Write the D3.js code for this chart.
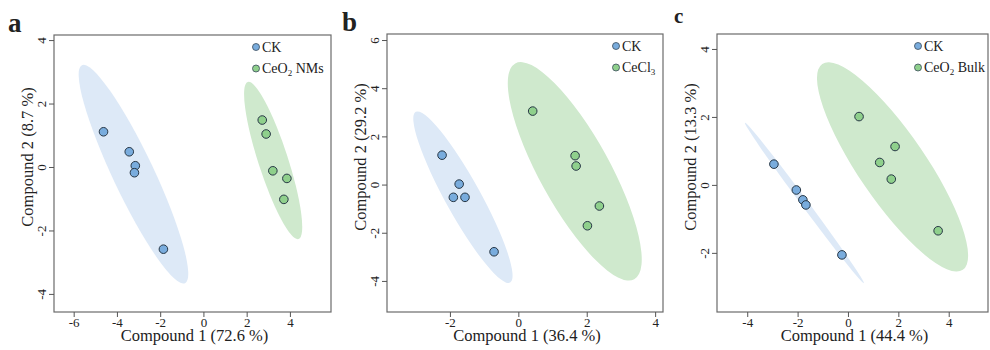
<!DOCTYPE html>
<meta charset="utf-8">
<html>
<head>
<title>PCA score plots</title>
<style>
  body { margin: 0; background: #fff; }
  svg text { font-family: 'Liberation Serif', 'Times New Roman', serif; fill: #222; }
</style>
</head>
<body>
<div id="chart"></div>
<script src="https://cdn.jsdelivr.net/npm/d3@7"></script>
<script>

// ---- data ----
var panelLetters = ["a", "b", "c"];
var xTitles = ["Compound 1 (72.6 %)", "Compound 1 (36.4 %)", "Compound 1 (44.4 %)"];
var yTitles = ["Compound 2 (8.7 %)", "Compound 2 (29.2 %)", "Compound 2 (13.3 %)"];
// legend names: [main, subscript, rest]
var groupNames = [
  [["CK", "", ""], ["CeO", "2", " NMs"]],
  [["CK", "", ""], ["CeCl", "3", ""]],
  [["CK", "", ""], ["CeO", "2", " Bulk"]]
];

var xDomains = [[-6.91, 5.90], [-3.84, 4.23], [-5.2, 5.56]];
var yDomains = [[-4.57, 4.16], [-5.29, 6.25], [-3.74, 4.44]];
var xTickVals = [[-6, -4, -2, 0, 2, 4], [-2, 0, 2, 4], [-4, -2, 0, 2, 4]];
var yTickVals = [[-4, -2, 0, 2, 4], [-4, -2, 0, 2, 4, 6], [-2, 0, 2, 4]];

// scores per panel: CK then treatment, [x, y]
var ckScores = [
  [[-4.62, 1.11], [-3.43, 0.48], [-3.15, 0.04], [-3.19, -0.18], [-1.85, -2.59]],
  [[-2.23, 1.22], [-1.73, 0.02], [-1.90, -0.53], [-1.56, -0.53], [-0.71, -2.79]],
  [[-2.94, 0.61], [-2.05, -0.15], [-1.79, -0.44], [-1.67, -0.59], [-0.24, -2.06]]
];
var trtScores = [
  [[2.72, 1.48], [2.90, 1.04], [3.21, -0.12], [3.86, -0.36], [3.72, -1.02]],
  [[0.42, 3.05], [1.66, 1.20], [1.69, 0.77], [2.37, -0.89], [2.02, -1.71]],
  [[0.44, 2.01], [1.87, 1.13], [1.26, 0.66], [1.72, 0.17], [3.58, -1.35]]
];

// confidence ellipses: major-axis tips [x1, y1, x2, y2] and minor/major ratio
var ckEllipse = [[-5.62, 3.21, -0.85, -3.66], [-3.0, 3.02, -0.24, -4.07], [-4.09, 1.83, 0.63, -2.89]];
var ckRatio = [0.17, 0.18, 0.035];
var trtEllipse = [[2.05, 2.68, 4.40, -2.27], [-0.09, 5.03, 3.39, -3.93], [-1.02, 3.56, 4.56, -2.5]];
var trtRatio = [0.18, 0.285, 0.27];

// ---- layout ----
var boxes = [
  {x0: 54, x1: 331, y0: 35, y1: 312},
  {x0: 387, x1: 663, y0: 34, y1: 312},
  {x0: 717, x1: 988, y0: 34, y1: 312}
];
var letterPos = [[8, 32, 27], [342, 31, 27], [674, 23, 21]];
var colors = {
  ckFill: "#79acdd", trtFill: "#8fd08c",
  ckEll: "#dde9f7", trtEll: "#cfe9cd",
  dotStroke: "#263645"
};
var serif = "'Liberation Serif', 'Times New Roman', serif";

var svg = d3.select("#chart").append("svg")
  .attr("width", 990)
  .attr("height", 350);

panelLetters.forEach(function(letter, i) {
  var b = boxes[i];
  var x = d3.scaleLinear().domain(xDomains[i]).range([b.x0, b.x1]);
  var y = d3.scaleLinear().domain(yDomains[i]).range([b.y1, b.y0]);
  var g = svg.append("g");

  // ellipses
  function drawEllipse(tips, ratio, fill) {
    var p1 = [x(tips[0]), y(tips[1])], p2 = [x(tips[2]), y(tips[3])];
    var cx = (p1[0] + p2[0]) / 2, cy = (p1[1] + p2[1]) / 2;
    var a = Math.hypot(p2[0] - p1[0], p2[1] - p1[1]) / 2;
    var ang = Math.atan2(p2[1] - p1[1], p2[0] - p1[0]) * 180 / Math.PI;
    g.append("ellipse")
      .attr("cx", 0).attr("cy", 0)
      .attr("rx", a).attr("ry", a * ratio)
      .attr("transform", "translate(" + cx + "," + cy + ") rotate(" + ang + ")")
      .style("fill", fill);
  }
  drawEllipse(ckEllipse[i], ckRatio[i], colors.ckEll);
  drawEllipse(trtEllipse[i], trtRatio[i], colors.trtEll);

  // points
  g.selectAll(".ck").data(ckScores[i]).enter()
    .append("circle")
    .attr("cx", function(d) { return x(d[0]); })
    .attr("cy", function(d) { return y(d[1]); })
    .attr("r", 4.3)
    .style("fill", colors.ckFill)
    .style("stroke", colors.dotStroke)
    .style("stroke-width", 1);
  g.selectAll(".trt").data(trtScores[i]).enter()
    .append("circle")
    .attr("cx", function(d) { return x(d[0]); })
    .attr("cy", function(d) { return y(d[1]); })
    .attr("r", 4.3)
    .style("fill", colors.trtFill)
    .style("stroke", colors.dotStroke)
    .style("stroke-width", 1);

  // frame
  g.append("rect")
    .attr("x", b.x0).attr("y", b.y0)
    .attr("width", b.x1 - b.x0).attr("height", b.y1 - b.y0)
    .style("fill", "none")
    .style("stroke", "#6b6b6b")
    .style("stroke-width", 1.2);

  // axes (plain hyphen minus like the original)
  var fmt = function(d) { return String(d); };
  var xa = g.append("g")
    .attr("transform", "translate(0," + b.y1 + ")")
    .call(d3.axisBottom(x).tickValues(xTickVals[i]).tickFormat(fmt)
      .tickSize(5).tickSizeOuter(0).tickPadding(1));
  xa.attr("font-family", serif).attr("font-size", 13);
  xa.select(".domain").remove();
  xa.selectAll("line").style("stroke", "#555");
  xa.selectAll("text").style("fill", "#222");

  var ya = g.append("g")
    .attr("transform", "translate(" + b.x0 + ",0)")
    .call(d3.axisLeft(y).tickValues(yTickVals[i]).tickFormat(fmt)
      .tickSize(5).tickSizeOuter(0));
  ya.attr("font-family", serif).attr("font-size", 13);
  ya.select(".domain").remove();
  ya.selectAll("line").style("stroke", "#555");
  ya.selectAll("text")
    .attr("transform", "rotate(-90)")
    .attr("x", 0).attr("y", -8).attr("dy", 0)
    .style("text-anchor", "middle")
    .style("fill", "#222");

  // titles
  g.append("text")
    .attr("x", (b.x0 + b.x1) / 2 + 2)
    .attr("y", 341)
    .attr("text-anchor", "middle")
    .style("font-size", "16.5px")
    .text(xTitles[i]);
  g.append("text")
    .attr("transform", "translate(" + (b.x0 - 21) + ",157) rotate(-90)")
    .attr("text-anchor", "middle")
    .style("font-size", "16.5px")
    .text(yTitles[i]);

  // panel letter
  g.append("text")
    .attr("x", letterPos[i][0])
    .attr("y", letterPos[i][1])
    .style("font-size", letterPos[i][2] + "px")
    .style("font-weight", "bold")
    .text(letter);

  // legend
  var lx = b.x1 - (i === 0 ? 75 : (i === 1 ? 47 : 70));
  var fills = [colors.ckFill, colors.trtFill];
  groupNames[i].forEach(function(nm, k) {
    var ly = b.y0 + 12 + k * 21.5;
    g.append("circle")
      .attr("cx", lx).attr("cy", ly)
      .attr("r", 3.5)
      .style("fill", fills[k])
      .style("stroke", "#3a4a5a")
      .style("stroke-width", 0.8);
    var t = g.append("text")
      .attr("x", lx + 6).attr("y", ly + 4.5)
      .style("font-size", "14px");
    t.append("tspan").text(nm[0]);
    if (nm[1]) {
      t.append("tspan").attr("dy", 3).style("font-size", "9px").text(nm[1]);
      t.append("tspan").attr("dy", -3).text(nm[2]);
    }
  });
});

</script>
</body>
</html>
